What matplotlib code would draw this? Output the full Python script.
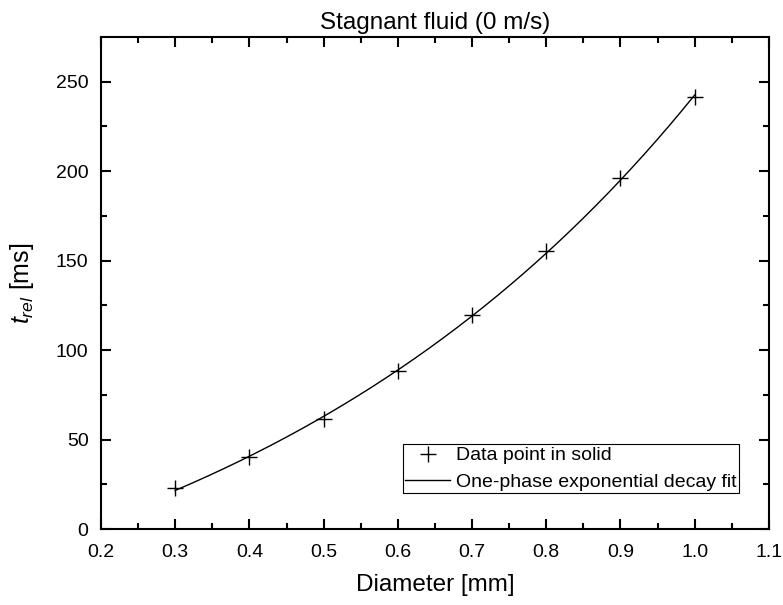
import numpy as np
import matplotlib.pyplot as plt

plt.rcParams['font.family'] = ['Liberation Sans', 'DejaVu Sans']
plt.rcParams['mathtext.fontset'] = 'custom'
plt.rcParams['mathtext.it'] = 'Liberation Sans:italic'
plt.rcParams['mathtext.rm'] = 'Liberation Sans'

# data
diameter = [0.3, 0.4, 0.5, 0.6, 0.7, 0.8, 0.9, 1.0]
t_rel = [22.9, 40.2, 61.4, 88.2, 119.4, 155.1, 195.9, 241.6]

xticks = [0.2, 0.3, 0.4, 0.5, 0.6, 0.7, 0.8, 0.9, 1.0, 1.1]
yticks = [0, 50, 100, 150, 200, 250]

x = np.array(diameter)
y = np.array(t_rel)

# one-phase exponential fit y = y0 + A*exp(x/t), t by grid search, y0/A by least squares
best = None
for t in np.linspace(0.05, 5, 2000):
    M = np.column_stack([np.ones_like(x), np.exp(x / t)])
    coef, res, _, _ = np.linalg.lstsq(M, y, rcond=None)
    err = np.sum((M @ coef - y) ** 2)
    if best is None or err < best[0]:
        best = (err, t, coef)
_, t_fit, (y0, A) = best
xf = np.linspace(min(diameter), max(diameter), 300)
yf = y0 + A * np.exp(xf / t_fit)

fig = plt.figure(figsize=(7.83, 6.05), dpi=100)
ax = fig.add_axes([0.129, 0.1256, 0.853, 0.8134])

ax.plot(diameter, t_rel, linestyle='none', marker='+', color='black',
        markersize=12, markeredgewidth=1.0, label='Data point in solid')
ax.plot(xf, yf, color='black', linewidth=1.0, label='One-phase exponential decay fit')

ax.set_xlim(0.2, 1.1)
ax.set_ylim(0, 275)
ax.set_xticks(xticks)
ax.set_xticklabels(['%.1f' % v for v in xticks])
ax.set_yticks(yticks)
ax.set_xticks(np.arange(0.25, 1.1, 0.1), minor=True)
ax.set_yticks(np.arange(25, 275, 50), minor=True)
ax.tick_params(which='both', direction='in', top=True, right=True, width=1.5, labelsize=14)
ax.tick_params(axis='x', which='both', pad=10.5)
ax.tick_params(axis='y', which='both', pad=9)
ax.tick_params(which='major', length=7)
ax.tick_params(which='minor', length=4)
for s in ax.spines.values():
    s.set_linewidth(1.5)

ax.set_xlabel('Diameter [mm]', fontsize=17.5, labelpad=10)
ax.set_ylabel(r'$t_{rel}$ [ms]', fontsize=18, labelpad=14)
ax.set_title('Stagnant fluid (0 m/s)', fontsize=17.5, pad=6)

leg = ax.legend(loc='lower right', bbox_to_anchor=(0.955, 0.073), fontsize=14,
                fancybox=False, edgecolor='black', framealpha=1,
                handlelength=2.3, borderpad=0.12, labelspacing=0.45, handletextpad=0.3,
                borderaxespad=0.0)
leg.get_frame().set_linewidth(0.8)

fig.savefig('out.png', dpi=100)
